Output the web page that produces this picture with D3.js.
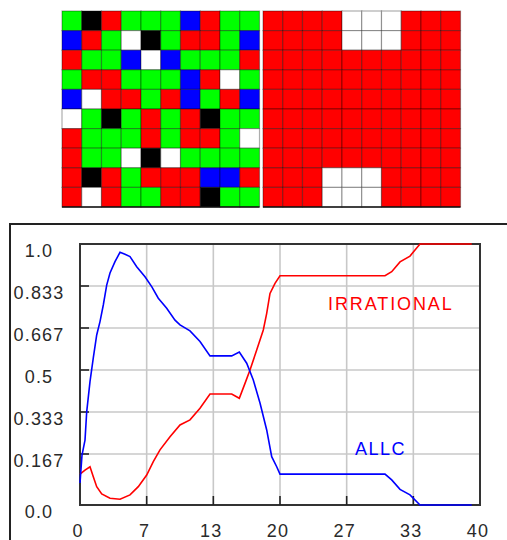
<!DOCTYPE html>
<html><head><meta charset="utf-8">
<script src="https://cdn.jsdelivr.net/npm/d3@7"></script>
<style>html,body{margin:0;padding:0;background:#fff;}svg{display:block;}</style>
</head><body>
<script>
// ---- data ----
const gridLeft = [
  "GKRGGGBRGG",
  "BRGWKGRRGB",
  "RGGBWBGGGR",
  "GRRGGGBRWG",
  "BWRRGRBGRB",
  "WGKGRGRKGG",
  "RGGGRGRRGW",
  "RGGWKWGGGG",
  "RKRGRRRBBR",
  "RWRGGRRKGG"
];
const gridRight = [
  "RRRRWWWRRR",
  "RRRRWWWRRR",
  "RRRRRRRRRR",
  "RRRRRRRRRR",
  "RRRRRRRRRR",
  "RRRRRRRRRR",
  "RRRRRRRRRR",
  "RRRRRRRRRR",
  "RRRWWWRRRR",
  "RRRWWWRRRR"
];
const cellColors = {R:"#ff0000", G:"#00ff00", B:"#0000ff", K:"#000000", W:"#ffffff"};

const allcT = [0,0.2,0.5,0.67,1.0,1.33,1.67,2.0,2.33,2.67,3.0,3.5,4.0,4.5,5.0,5.67,6.5,7.17,7.83,8.67,9.5,10,11,12,13,15.17,15.93,16.67,17.33,18,18.67,19.17,19.67,20,30.5,31.17,32,33,34,39.17];
const allcV = [0.072,0.163,0.222,0.334,0.454,0.548,0.639,0.692,0.758,0.837,0.885,0.930,0.967,0.959,0.950,0.910,0.870,0.831,0.785,0.745,0.698,0.679,0.655,0.613,0.556,0.556,0.571,0.527,0.460,0.369,0.262,0.158,0.125,0.101,0.101,0.082,0.051,0.033,0,0];
const irrT = [0,0.5,1.0,1.33,1.67,2.17,3.0,4.0,5.0,5.83,6.67,7.33,8.0,9.0,10,11,12,13,15.17,15.93,16.5,17,17.67,18.33,18.67,19,19.5,20,30.5,31.17,32,33,33.5,34,39.17];
const irrV = [0.101,0.114,0.125,0.092,0.060,0.036,0.022,0.019,0.033,0.060,0.098,0.142,0.183,0.235,0.282,0.302,0.348,0.405,0.405,0.388,0.447,0.5,0.579,0.659,0.725,0.804,0.844,0.874,0.874,0.890,0.929,0.952,0.976,1.0,1.0];

const yTickVals = [0,1/6,2/6,3/6,4/6,5/6,1];
const yTickLabels = ["0.0","0.167","0.333","0.5","0.667","0.833","1.0"];
const xTickVals = [0,40/6,80/6,20,160/6,200/6,40];
const xTickLabels = ["0","7","13","20","27","33","40"];
const seriesNames = ["IRRATIONAL","ALLC"];

// ---- drawing ----
const W = 507, H = 540;
const svg = d3.select("body").append("svg").attr("width", W).attr("height", H);

function drawGrid(data, x0, x1) {
  const cols = d3.scaleBand().domain(d3.range(10)).range([x0, x1]);
  const rows = d3.scaleBand().domain(d3.range(10)).range([11, 207]);
  const g = svg.append("g");
  data.forEach((row, r) => {
    g.selectAll(null).data(row.split("")).enter().append("rect")
      .attr("x", (d, c) => cols(c)).attr("y", rows(r))
      .attr("width", cols.bandwidth()).attr("height", rows.bandwidth())
      .attr("fill", d => cellColors[d])
      .attr("stroke", "rgba(0,0,0,0.32)").attr("stroke-width", 1.2);
  });
  g.append("line").attr("x1", x0).attr("x2", x1).attr("y1", 207).attr("y2", 207)
    .attr("stroke", "#111").attr("stroke-width", 1.5);
}
drawGrid(gridLeft, 62, 259.5);
drawGrid(gridRight, 263, 460.5);

// outer frame of chart panel
svg.append("path").attr("d", `M10,${H+5}V224H${W+5}`)
  .attr("fill", "none").attr("stroke", "#222").attr("stroke-width", 2);

const x = d3.scaleLinear().domain([0, 40]).range([80, 480]);
const y = d3.scaleLinear().domain([0, 1/6, 1]).range([505, 454, 244]);

// gridlines
const grid = svg.append("g");
grid.selectAll(".gx").data(xTickVals.slice(1, -1)).enter().append("line")
  .attr("x1", d => x(d)).attr("x2", d => x(d)).attr("y1", y(1)).attr("y2", y(0))
  .attr("stroke", "#c8c8c8").attr("stroke-width", 1.6);
grid.selectAll(".gy").data(yTickVals.slice(1, -1)).enter().append("line")
  .attr("x1", x(0)).attr("x2", x(40)).attr("y1", d => y(d)).attr("y2", d => y(d))
  .attr("stroke", "#c8c8c8").attr("stroke-width", 1.6);

// frame
svg.append("rect").attr("x", x(0)).attr("y", y(1)).attr("width", x(40) - x(0)).attr("height", y(0) - y(1))
  .attr("fill", "none").attr("stroke", "#333").attr("stroke-width", 2);

// ticks (inward)
svg.append("g").selectAll("line").data(yTickVals.slice(1, -1)).enter().append("line")
  .attr("x1", x(0)).attr("x2", x(0) + 9).attr("y1", d => y(d)).attr("y2", d => y(d))
  .attr("stroke", "#222").attr("stroke-width", 1.6);
svg.append("g").selectAll("line").data(xTickVals.slice(1, -1)).enter().append("line")
  .attr("x1", d => x(d)).attr("x2", d => x(d)).attr("y1", y(0)).attr("y2", y(0) - 9)
  .attr("stroke", "#222").attr("stroke-width", 1.6);

const font = "'Liberation Sans', Arial, sans-serif";
// tick labels
svg.append("g").selectAll("text").data(yTickVals).enter().append("text")
  .attr("x", 39).attr("y", d => y(d) + 13)
  .attr("text-anchor", "middle").attr("font-family", font).attr("font-size", 18)
  .attr("letter-spacing", 1.2).attr("fill", "#2a2a2a")
  .text((d, i) => yTickLabels[i]);
svg.append("g").selectAll("text").data(xTickVals).enter().append("text")
  .attr("x", d => x(d) - 2).attr("y", 537)
  .attr("text-anchor", "middle").attr("font-family", font).attr("font-size", 18)
  .attr("letter-spacing", 1.2).attr("fill", "#2a2a2a")
  .text((d, i) => xTickLabels[i]);

// lines
const line = d3.line().x(d => x(d[0])).y(d => y(d[1]));
svg.append("path").datum(irrT.map((t, i) => [t, irrV[i]]))
  .attr("d", line).attr("fill", "none").attr("stroke", "#ff0000").attr("stroke-width", 1.6);
svg.append("path").datum(allcT.map((t, i) => [t, allcV[i]]))
  .attr("d", line).attr("fill", "none").attr("stroke", "#0000ff").attr("stroke-width", 1.6);

// series labels
svg.append("text").attr("x", x(24.8)).attr("y", y(0.74))
  .attr("font-family", font).attr("font-size", 18).attr("letter-spacing", 1.9)
  .attr("fill", "#ff0000").text(seriesNames[0]);
svg.append("text").attr("x", x(27.5)).attr("y", 455)
  .attr("font-family", font).attr("font-size", 18).attr("letter-spacing", 1.5)
  .attr("fill", "#0000ff").text(seriesNames[1]);
</script>
</body></html>
